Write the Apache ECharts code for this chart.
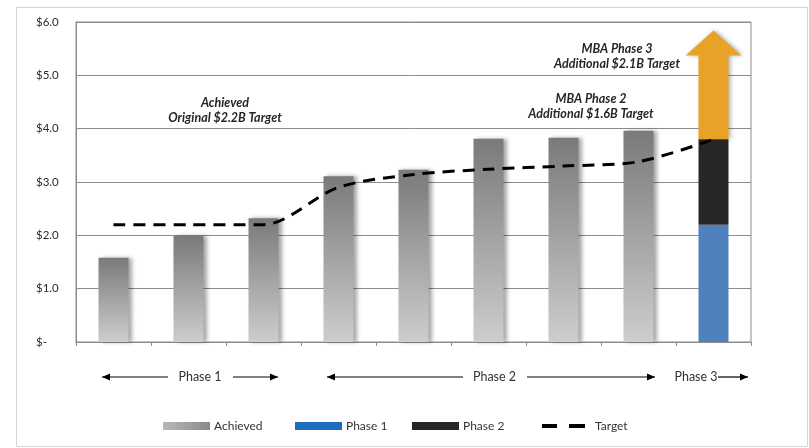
<!DOCTYPE html>
<html>
<head>
<meta charset="utf-8">
<script src="https://cdn.jsdelivr.net/npm/echarts@6/dist/echarts.min.js"></script>
<style>html,body{margin:0;padding:0;background:#fff;}#c{width:809px;height:448px;}</style>
</head>
<body>
<div id="c"></div>
<script>
// ---- data ----
var categories = ['1','2','3','4','5','6','7','8','9'];
var achieved   = [1.58, 1.99, 2.32, 3.11, 3.23, 3.81, 3.83, 3.96, '-'];
var phase1     = ['-', '-', '-', '-', '-', '-', '-', '-', 2.2];
var phase2     = ['-', '-', '-', '-', '-', '-', '-', '-', 1.6];
var target     = [2.2, 2.2, 2.2, 2.9, 3.14, 3.24, 3.3, 3.38, 3.8];
var phase3Arrow = [[8, 3.8, 5.84]]; // category index, base, tip
var yTicks = ['$-', '$1.0', '$2.0', '$3.0', '$4.0', '$5.0', '$6.0'];
var legendNames = ['Achieved', 'Phase 1', 'Phase 2', 'Target'];

var FONT = 'Lato, "Liberation Sans", sans-serif';
var chart = echarts.init(document.getElementById('c'), null, {renderer: 'canvas'});

var grayGrad = new echarts.graphic.LinearGradient(0, 0, 0, 1, [
  {offset: 0, color: '#7a7a7a'}, {offset: 1, color: '#cdcdcd'}
]);
var legendGrad = new echarts.graphic.LinearGradient(0, 0, 1, 0, [
  {offset: 0, color: '#b8b8b8'}, {offset: 1, color: '#8a8a8a'}
]);

function hArrow(x1, x2, y, dir) {
  var els = [{
    type: 'line', shape: {x1: x1, y1: y, x2: x2, y2: y},
    style: {stroke: '#000', lineWidth: 1.2}
  }];
  var tip = dir < 0 ? x1 : x2;
  var back = dir < 0 ? x1 + 8 : x2 - 8;
  els.push({type: 'polygon', shape: {points: [[tip, y], [back, y - 3.5], [back, y + 3.5]]}, style: {fill: '#000'}});
  return els;
}

var graphics = [
  {type: 'rect', shape: {x: 16.5, y: 7.5, width: 791, height: 439}, style: {fill: 'none', stroke: '#d4d4d4', lineWidth: 1}, z: -10}
];
var phaseY = 377;
graphics = graphics
  .concat(hArrow(102, 168, phaseY, -1))
  .concat(hArrow(233, 278, phaseY, 1))
  .concat(hArrow(327, 463, phaseY, -1))
  .concat(hArrow(527, 655, phaseY, 1))
  .concat(hArrow(718, 748, phaseY, 1));
var phaseTexts = [['Phase 1', 200], ['Phase 2', 494.5], ['Phase 3', 696]];
phaseTexts.forEach(function (p) {
  graphics.push({type: 'text', x: p[1], y: phaseY, style: {text: p[0], font: '12.5px ' + FONT, fill: '#333', align: 'center', verticalAlign: 'middle'}});
});
var notes = [
  ['Achieved\nOriginal $2.2B Target', 225, 110],
  ['MBA Phase 2\nAdditional $1.6B Target', 591, 106],
  ['MBA Phase 3\nAdditional $2.1B Target', 617, 56.5]
];
notes.forEach(function (n) {
  graphics.push({type: 'text', x: n[1], y: n[2], style: {text: n[0], font: 'italic bold 12.5px ' + FONT, fill: '#262626', align: 'center', verticalAlign: 'middle', lineHeight: 15}});
});

var legendLeft = [163, 295, 412, 542];
var legendItems = [
  {name: 'Achieved', icon: 'rect', itemStyle: {color: legendGrad}},
  {name: 'Phase 1', icon: 'rect', itemStyle: {color: '#1e6cbd'}},
  {name: 'Phase 2', icon: 'rect', itemStyle: {color: '#262626'}},
  {name: 'Target', icon: 'path://M0,0H15V4H0Z M27,0H43V4H27Z', itemStyle: {color: '#000'}}
];
var legends = legendItems.map(function (it, i) {
  var isT = i === 3;
  return {
    left: legendLeft[i], top: isT ? 420 : 420, padding: 0,
    itemWidth: isT ? 43 : 47, itemHeight: isT ? 4 : 8,
    itemGap: 0, selectedMode: false, symbolKeepAspect: false,
    textStyle: {fontFamily: FONT, fontSize: 12, color: '#333', padding: [0, 0, 0, isT ? 5 : -1]},
    data: [it]
  };
});

var option = {
  animation: false,
  backgroundColor: '#fff',
  grid: {left: 76, right: 58, top: 22, bottom: 106, show: true, borderColor: '#8c8c8c', borderWidth: 1},
  legend: legends,
  xAxis: {
    type: 'category', data: categories, boundaryGap: true,
    axisLine: {lineStyle: {color: '#8c8c8c'}},
    axisTick: {show: true, length: 4, lineStyle: {color: '#8c8c8c'}},
    axisLabel: {show: false}
  },
  yAxis: {
    type: 'value', min: 0, max: 6, interval: 1,
    axisLine: {show: true, lineStyle: {color: '#8c8c8c'}},
    axisTick: {show: false},
    splitLine: {lineStyle: {color: '#8c8c8c', width: 1}},
    axisLabel: {
      align: 'left', margin: 40, fontFamily: FONT, fontSize: 11.5, color: '#2a2a2a',
      formatter: function (v) { return yTicks[Math.round(v)]; }
    }
  },
  graphic: graphics,
  series: [
    {
      name: 'Achieved', type: 'bar', stack: 'a', barWidth: 30, data: achieved,
      itemStyle: {color: grayGrad, shadowColor: 'rgba(0,0,0,0.35)', shadowBlur: 4, shadowOffsetX: 3, shadowOffsetY: 0}
    },
    {
      name: 'Phase 1', type: 'bar', stack: 'a', barWidth: 30, data: phase1,
      itemStyle: {color: '#4f81bd'}
    },
    {
      name: 'Phase 2', type: 'bar', stack: 'a', barWidth: 30, data: phase2,
      itemStyle: {color: '#262626'}
    },
    {
      name: 'Phase 3', type: 'custom', data: phase3Arrow, z: 1,
      encode: {x: 0, y: [1, 2]},
      renderItem: function (params, api) {
        var x = api.value(0);
        var base = api.coord([x, api.value(1)]);
        var tip = api.coord([x, api.value(2)]);
        var bw = api.size([1, 0])[0] * 0.4;
        var hw = 56, hh = 25;
        var cx = base[0];
        var hb = tip[1] + hh;
        return {
          type: 'polygon',
          shape: {points: [
            [cx - bw / 2, base[1]], [cx - bw / 2, hb], [cx - hw / 2, hb], [cx, tip[1]],
            [cx + hw / 2, hb], [cx + bw / 2, hb], [cx + bw / 2, base[1]]
          ]},
          style: {fill: '#e9a228', shadowColor: 'rgba(0,0,0,0.3)', shadowBlur: 4, shadowOffsetX: 2}
        };
      }
    },
    {
      name: 'Target', type: 'line', data: target, smooth: 0.3, symbol: 'none', z: 5,
      lineStyle: {color: '#000', width: 3, type: [12, 8]},
      itemStyle: {color: '#000'}
    }
  ]
};
chart.setOption(option);
</script>
</body>
</html>
